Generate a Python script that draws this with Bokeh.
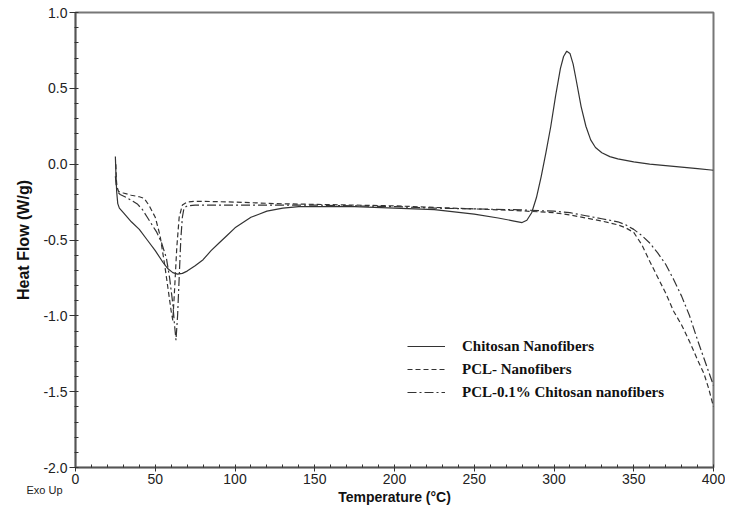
from bokeh.plotting import figure
from bokeh.models import Range1d, FixedTicker, PrintfTickFormatter, Legend, LegendItem, Title
from bokeh.embed import file_html
from bokeh.resources import INLINE

# Chitosan Nanofibers (solid)
chi_x = [25, 25.3, 25.8, 26.5, 27.5, 30, 35, 40, 45, 50, 55, 58, 61, 64, 67, 70, 75, 80, 85, 90,
         95, 100, 105, 110, 115, 120, 130, 140, 150, 175, 200, 225, 250, 265, 275, 280, 283, 286,
         289, 292, 295, 298, 301, 304, 306, 308, 310, 312, 314, 317, 320, 323, 326, 330, 335, 340,
         350, 360, 370, 380, 390, 400]
chi_y = [0.05, -0.05, -0.18, -0.26, -0.29, -0.32, -0.38, -0.43, -0.50, -0.57, -0.65, -0.69, -0.715,
         -0.725, -0.72, -0.705, -0.67, -0.63, -0.57, -0.52, -0.47, -0.42, -0.385, -0.35, -0.33,
         -0.31, -0.29, -0.28, -0.28, -0.28, -0.29, -0.30, -0.33, -0.355, -0.375, -0.385, -0.37,
         -0.32, -0.22, -0.08, 0.08, 0.25, 0.45, 0.63, 0.71, 0.745, 0.73, 0.66, 0.55, 0.38, 0.25,
         0.16, 0.11, 0.075, 0.05, 0.035, 0.015, 0.0, -0.01, -0.02, -0.03, -0.04]

# PCL- Nanofibers (dashed)
pcl_x = [25.3, 25.6, 26, 27, 30, 35, 40, 43, 46, 50, 53, 56, 58, 60, 61, 62, 63.5, 65, 67, 70,
         75, 80, 100, 125, 150, 175, 200, 225, 250, 275, 300, 310, 320, 330, 340, 345, 350, 355,
         360, 365, 370, 375, 380, 385, 390, 394, 397, 400]
pcl_y = [0.0, -0.10, -0.15, -0.18, -0.19, -0.205, -0.215, -0.225, -0.27, -0.35, -0.47, -0.67,
         -0.82, -0.97, -1.03, -0.85, -0.55, -0.35, -0.27, -0.25, -0.245, -0.245, -0.25, -0.26,
         -0.265, -0.27, -0.275, -0.285, -0.295, -0.305, -0.32, -0.335, -0.355, -0.375, -0.40,
         -0.42, -0.45, -0.53, -0.64, -0.745, -0.85, -0.97, -1.06, -1.17, -1.29, -1.38, -1.48, -1.60]

# PCL-0.1% Chitosan nanofibers (dash-dot)
mix_x = [25.0, 25.5, 26, 28, 32, 36, 39, 42, 45, 48, 51, 54, 57, 59, 61, 62, 63, 64, 65, 66, 67,
         68, 70, 75, 80, 100, 125, 150, 175, 200, 225, 250, 275, 300, 310, 320, 330, 340, 345,
         350, 355, 360, 365, 370, 375, 380, 385, 390, 394, 397, 400]
mix_y = [-0.08, -0.14, -0.18, -0.20, -0.22, -0.245, -0.265, -0.30, -0.35, -0.40, -0.45, -0.52,
         -0.62, -0.75, -0.92, -1.05, -1.16, -1.00, -0.75, -0.50, -0.35, -0.29, -0.275, -0.27,
         -0.27, -0.27, -0.27, -0.27, -0.275, -0.28, -0.29, -0.295, -0.30, -0.31, -0.32, -0.34,
         -0.36, -0.38, -0.40, -0.43, -0.47, -0.52, -0.585, -0.66, -0.76, -0.87, -1.0, -1.16,
         -1.28, -1.37, -1.46]

series_labels = ["Chitosan Nanofibers", "PCL- Nanofibers", "PCL-0.1% Chitosan nanofibers"]
x_ticks = [0, 50, 100, 150, 200, 250, 300, 350, 400]
y_ticks = [-2.0, -1.5, -1.0, -0.5, 0.0, 0.5, 1.0]

p = figure(width=725, height=506, output_backend="svg", toolbar_location=None,
           x_range=Range1d(0, 400), y_range=Range1d(-2, 1),
           min_border_left=75, min_border_right=12, min_border_top=12, min_border_bottom=39)
p.xgrid.visible = False
p.ygrid.visible = False
p.outline_line_color = "#777777"
p.outline_line_width = 2
p.background_fill_color = "white"
p.border_fill_color = "white"

line_col = "#333333"
r1 = p.line(chi_x, chi_y, line_color=line_col, line_width=1.2)
r2 = p.line(pcl_x, pcl_y, line_color=line_col, line_width=1.2, line_dash="5 3")
r3 = p.line(mix_x, mix_y, line_color=line_col, line_width=1.2, line_dash="9 3 2 3")

p.xaxis.ticker = FixedTicker(ticks=x_ticks, minor_ticks=list(range(0, 401, 10)))
p.yaxis.ticker = FixedTicker(ticks=y_ticks, minor_ticks=[round(-2 + 0.1 * i, 1) for i in range(31)])
p.xaxis.formatter = PrintfTickFormatter(format="%d")
p.yaxis.formatter = PrintfTickFormatter(format="%.1f")

for ax in (p.xaxis[0], p.yaxis[0]):
    ax.axis_line_color = "#555555"
    ax.axis_line_width = 1.6
    ax.major_tick_line_color = "#333333"
    ax.minor_tick_line_color = "#333333"
    ax.major_label_text_font = "Liberation Sans"
    ax.major_label_text_font_size = "14px"
    ax.major_label_text_color = "#222222"
    ax.axis_label_text_font = "Liberation Sans"
    ax.axis_label_text_font_style = "bold"
    ax.axis_label_text_color = "#111111"

p.xaxis.major_tick_in = 0
p.xaxis.major_tick_out = 4
p.xaxis.minor_tick_in = 3
p.xaxis.minor_tick_out = 0
p.xaxis.major_label_standoff = 2

p.yaxis.axis_label = "Heat Flow (W/g)"
p.yaxis.axis_label_text_font_size = "16px"
p.yaxis.major_tick_in = 0
p.yaxis.major_tick_out = 6
p.yaxis.minor_tick_in = 3
p.yaxis.minor_tick_out = 1
p.yaxis.major_label_standoff = 2
p.yaxis.axis_label_standoff = 8

# "Exo Up" note and x-axis title placed below the axis (pulled up with negative standoff)
exo = Title(text="Exo Up", align="left", offset=-49, standoff=-6, vertical_align="top",
            text_font="Liberation Sans", text_font_size="11px", text_font_style="normal",
            text_color="#222222")
p.add_layout(exo, "below")
xtitle = Title(text="Temperature (°C)", align="center", standoff=-11, vertical_align="top",
               text_font="Liberation Sans", text_font_size="14px", text_font_style="bold",
               text_color="#111111")
p.add_layout(xtitle, "below")

legend = Legend(items=[LegendItem(label=series_labels[0], renderers=[r1]),
                       LegendItem(label=series_labels[1], renderers=[r2]),
                       LegendItem(label=series_labels[2], renderers=[r3])],
                location=(332, 65))
legend.border_line_color = None
legend.background_fill_alpha = 0
legend.label_text_font = "Liberation Serif"
legend.label_text_font_style = "bold"
legend.label_text_font_size = "15px"
legend.label_text_color = "#111111"
legend.glyph_width = 38
legend.glyph_height = 20
legend.label_height = 20
legend.label_standoff = 17
legend.spacing = 3
legend.padding = 0
legend.margin = 0
p.add_layout(legend)

open("out.html", "w").write(file_html(p, INLINE))
